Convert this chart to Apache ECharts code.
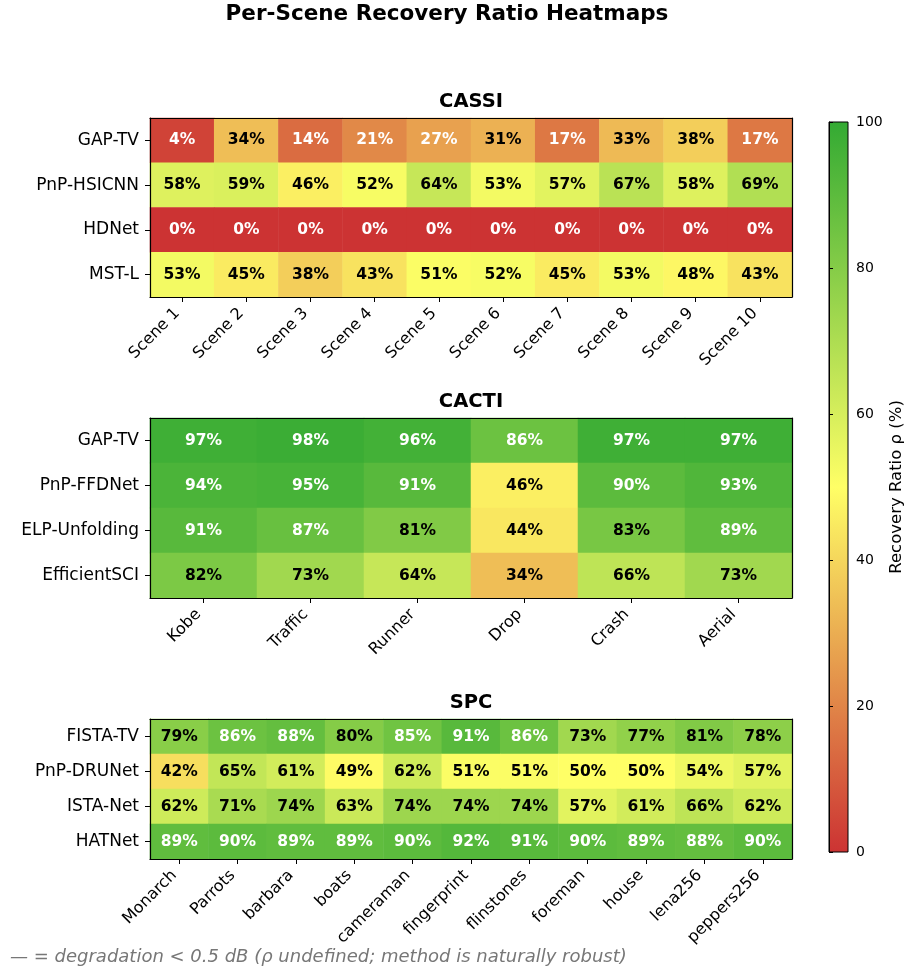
<!DOCTYPE html>
<html>
<head>
<meta charset="utf-8">
<script src="https://cdn.jsdelivr.net/npm/echarts@6/dist/echarts.min.js"></script>
<style>
  html, body { margin: 0; padding: 0; background: #fff; }
  #chart { width: 909px; height: 973px; }
</style>
</head>
<body>
<div id="chart"></div>
<script>
// ---- data -------------------------------------------------------------
const cassiMethods = ['GAP-TV', 'PnP-HSICNN', 'HDNet', 'MST-L'];
const cassiScenes = ['Scene 1', 'Scene 2', 'Scene 3', 'Scene 4', 'Scene 5',
                     'Scene 6', 'Scene 7', 'Scene 8', 'Scene 9', 'Scene 10'];
const cassiGapTv    = [4, 34, 14, 21, 27, 31, 17, 33, 38, 17];
const cassiPnpHsi   = [58, 59, 46, 52, 64, 53, 57, 67, 58, 69];
const cassiHdnet    = [0, 0, 0, 0, 0, 0, 0, 0, 0, 0];
const cassiMstL     = [53, 45, 38, 43, 51, 52, 45, 53, 48, 43];

const cactiMethods = ['GAP-TV', 'PnP-FFDNet', 'ELP-Unfolding', 'EfficientSCI'];
const cactiScenes = ['Kobe', 'Traffic', 'Runner', 'Drop', 'Crash', 'Aerial'];
const cactiGapTv    = [97, 98, 96, 86, 97, 97];
const cactiPnpFfd   = [94, 95, 91, 46, 90, 93];
const cactiElp      = [91, 87, 81, 44, 83, 89];
const cactiEffSci   = [82, 73, 64, 34, 66, 73];

const spcMethods = ['FISTA-TV', 'PnP-DRUNet', 'ISTA-Net', 'HATNet'];
const spcImages = ['Monarch', 'Parrots', 'barbara', 'boats', 'cameraman', 'fingerprint',
                   'flinstones', 'foreman', 'house', 'lena256', 'peppers256'];
const spcFistaTv    = [79, 86, 88, 80, 85, 91, 86, 73, 77, 81, 78];
const spcPnpDru     = [42, 65, 61, 49, 62, 51, 51, 50, 50, 54, 57];
const spcIstaNet    = [62, 71, 74, 63, 74, 74, 74, 57, 61, 66, 62];
const spcHatnet     = [89, 90, 89, 89, 90, 92, 91, 90, 89, 88, 90];

const colorbarTicks = [0, 20, 40, 60, 80, 100];

// ---- styling ----------------------------------------------------------
const FONT = 'DejaVu Sans';
const cmap = ['#cc3333', '#ffff66', '#33aa33'];

const panels = [
  { title: 'CASSI', rows: cassiMethods, cols: cassiScenes,
    values: [cassiGapTv, cassiPnpHsi, cassiHdnet, cassiMstL],
    grid: { left: 150, top: 118, width: 642, height: 179 } },
  { title: 'CACTI', rows: cactiMethods, cols: cactiScenes,
    values: [cactiGapTv, cactiPnpFfd, cactiElp, cactiEffSci],
    grid: { left: 150, top: 418, width: 642, height: 180 } },
  { title: 'SPC', rows: spcMethods, cols: spcImages,
    values: [spcFistaTv, spcPnpDru, spcIstaNet, spcHatnet],
    grid: { left: 150, top: 719, width: 642, height: 140 } }
];
const cbGrid = { left: 829, top: 122, width: 19, height: 730 };

const grids = [], xAxes = [], yAxes = [], series = [], graphics = [];

panels.forEach((p, i) => {
  grids.push(Object.assign({ containLabel: false, outerBoundsMode: 'none' }, p.grid));
  const frameLine = { show: true, lineStyle: { color: '#000', width: 1.2 } };
  // bottom axis with scene names
  xAxes.push({
    type: 'category', gridIndex: i, data: p.cols, position: 'bottom', z: 5,
    axisLine: frameLine,
    axisTick: { show: true, alignWithLabel: true, length: 5, lineStyle: { color: '#000' } },
    axisLabel: { interval: 0, rotate: 45, margin: 9, padding: [0, 7, 0, 0],
                 color: '#000', fontFamily: FONT, fontSize: 16 },
    splitLine: { show: false }
  });
  // top frame edge
  xAxes.push({
    type: 'category', gridIndex: i, data: p.cols, position: 'top', z: 5,
    axisLine: frameLine, axisTick: { show: false }, axisLabel: { show: false },
    splitLine: { show: false }
  });
  // left axis with method names
  yAxes.push({
    type: 'category', gridIndex: i, data: p.rows, inverse: true, position: 'left', z: 5,
    axisLine: frameLine,
    axisTick: { show: true, alignWithLabel: true, length: 5, lineStyle: { color: '#000' } },
    axisLabel: { interval: 0, margin: 11, color: '#000', fontFamily: FONT, fontSize: 17 },
    splitLine: { show: false }
  });
  // right frame edge
  yAxes.push({
    type: 'category', gridIndex: i, data: p.rows, inverse: true, position: 'right', z: 5,
    axisLine: frameLine, axisTick: { show: false }, axisLabel: { show: false },
    splitLine: { show: false }
  });

  const data = [];
  p.values.forEach((row, r) => {
    row.forEach((v, c) => {
      data.push({
        value: [c, r, v],
        label: { color: (v < 30 || v >= 85) ? '#ffffff' : '#000000' }
      });
    });
  });
  series.push({
    type: 'heatmap', name: p.title,
    xAxisIndex: 2 * i, yAxisIndex: 2 * i,
    data: data,
    label: {
      show: true, fontFamily: FONT, fontWeight: 'bold', fontSize: 15.5,
      formatter: (prm) => prm.value[2] + '%'
    },
    itemStyle: { borderWidth: 0 },
    emphasis: { disabled: true },
    silent: true
  });

  graphics.push({
    type: 'text', x: p.grid.left + p.grid.width / 2, y: p.grid.top - 16,
    style: { text: p.title, font: 'bold 19.5px "' + FONT + '"', fill: '#000',
             textAlign: 'center', textVerticalAlign: 'middle' }
  });
});

// colour bar: gradient-filled grid with a value axis on its right edge
grids.push(Object.assign({
  show: true, containLabel: false, outerBoundsMode: 'none',
  borderColor: '#000', borderWidth: 1,
  backgroundColor: {
    type: 'linear', x: 0, y: 1, x2: 0, y2: 0,
    colorStops: cmap.map((c, k) => ({ offset: k / (cmap.length - 1), color: c }))
  }
}, cbGrid));
xAxes.push({ type: 'value', gridIndex: 3, show: false, min: 0, max: 1 });
yAxes.push({
  type: 'value', gridIndex: 3, position: 'right',
  min: colorbarTicks[0], max: colorbarTicks[colorbarTicks.length - 1],
  interval: colorbarTicks[1] - colorbarTicks[0],
  axisLine: { show: true, lineStyle: { color: '#000', width: 1 } },
  axisTick: { show: true, length: 4, lineStyle: { color: '#000' } },
  axisLabel: { margin: 8, color: '#000', fontFamily: FONT, fontSize: 14 },
  splitLine: { show: false },
  name: 'Recovery Ratio ρ (%)', nameLocation: 'middle', nameRotate: 90, nameGap: 40,
  nameTextStyle: { color: '#000', fontFamily: FONT, fontSize: 16.5 }
});

graphics.push({
  type: 'text', x: 447, y: 14,
  style: { text: 'Per-Scene Recovery Ratio Heatmaps', font: 'bold 21.5px "' + FONT + '"',
           fill: '#000', textAlign: 'center', textVerticalAlign: 'middle' }
});
graphics.push({
  type: 'text', x: 10, y: 957,
  style: { text: '— = degradation < 0.5 dB (ρ undefined; method is naturally robust)',
           font: 'italic 18px "' + FONT + '"', fill: '#777777',
           textAlign: 'left', textVerticalAlign: 'middle' }
});

const chart = echarts.init(document.getElementById('chart'), null, { renderer: 'canvas' });
chart.setOption({
  animation: false,
  backgroundColor: '#ffffff',
  grid: grids,
  xAxis: xAxes,
  yAxis: yAxes,
  visualMap: {
    type: 'continuous', show: false, min: 0, max: 100, dimension: 2,
    seriesIndex: [0, 1, 2],
    inRange: { color: cmap }
  },
  series: series,
  graphic: graphics
});
</script>
</body>
</html>
